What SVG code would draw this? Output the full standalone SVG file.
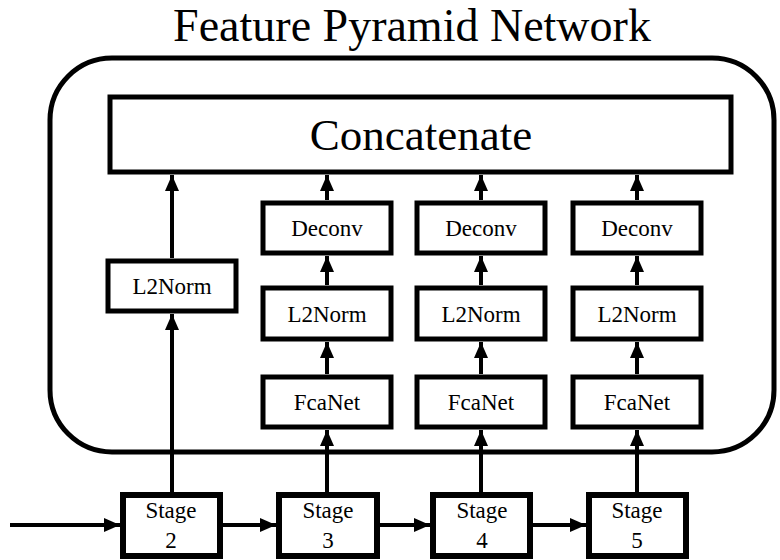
<svg xmlns="http://www.w3.org/2000/svg" width="780" height="560" viewBox="0 0 780 560">
<defs>
<marker id="ah" markerUnits="userSpaceOnUse" markerWidth="16" markerHeight="16" refX="16" refY="8" orient="auto">
<path d="M0,1 L16,8 L0,15 z" fill="#000"/>
</marker>
<style>
.box{fill:#fff;stroke:#000;stroke-width:5}
.stage{fill:#fff;stroke:#000;stroke-width:6}
.con{fill:none;stroke:#000;stroke-width:4;marker-end:url(#ah)}
</style>
</defs>
<rect width="780" height="560" fill="#fff"/>
<g fill="#000" text-anchor="middle" font-size="23">
<text x="412" y="41" font-size="46" font-family="Liberation Serif" style="font-family:'Liberation Serif',serif">Feature Pyramid Network</text>
<g id="fpn-frame"><rect x="50" y="58" width="724" height="394" rx="62" ry="62" fill="none" stroke="#000" stroke-width="5"/></g>
<g id="concatenate"><rect class="box" x="110" y="97" width="621" height="75"/><text x="421" y="150" font-size="45" font-family="Liberation Serif" style="font-family:'Liberation Serif',serif">Concatenate</text></g>
<g id="l2norm2"><rect class="box" x="108" y="261" width="128" height="50"/><text x="172" y="294" font-family="Liberation Serif" style="font-family:'Liberation Serif',serif">L2Norm</text></g>
<g id="deconv3"><rect class="box" x="263" y="203" width="128" height="50"/><text x="327" y="236" font-family="Liberation Serif" style="font-family:'Liberation Serif',serif">Deconv</text></g>
<g id="l2norm3"><rect class="box" x="263" y="288" width="128" height="51"/><text x="327" y="322" font-family="Liberation Serif" style="font-family:'Liberation Serif',serif">L2Norm</text></g>
<g id="fcanet3"><rect class="box" x="263" y="377" width="128" height="50"/><text x="327" y="410" font-family="Liberation Serif" style="font-family:'Liberation Serif',serif">FcaNet</text></g>
<g id="deconv4"><rect class="box" x="417" y="203" width="128" height="50"/><text x="481" y="236" font-family="Liberation Serif" style="font-family:'Liberation Serif',serif">Deconv</text></g>
<g id="l2norm4"><rect class="box" x="417" y="288" width="128" height="51"/><text x="481" y="322" font-family="Liberation Serif" style="font-family:'Liberation Serif',serif">L2Norm</text></g>
<g id="fcanet4"><rect class="box" x="417" y="377" width="128" height="50"/><text x="481" y="410" font-family="Liberation Serif" style="font-family:'Liberation Serif',serif">FcaNet</text></g>
<g id="deconv5"><rect class="box" x="573" y="203" width="128" height="50"/><text x="637" y="236" font-family="Liberation Serif" style="font-family:'Liberation Serif',serif">Deconv</text></g>
<g id="l2norm5"><rect class="box" x="573" y="288" width="128" height="51"/><text x="637" y="322" font-family="Liberation Serif" style="font-family:'Liberation Serif',serif">L2Norm</text></g>
<g id="fcanet5"><rect class="box" x="573" y="377" width="128" height="50"/><text x="637" y="410" font-family="Liberation Serif" style="font-family:'Liberation Serif',serif">FcaNet</text></g>
<g id="stage2"><rect class="stage" x="123" y="495" width="97" height="61"/><text x="171" y="518" font-family="Liberation Serif" style="font-family:'Liberation Serif',serif">Stage</text><text x="171" y="548" font-family="Liberation Serif" style="font-family:'Liberation Serif',serif">2</text></g>
<g id="stage3"><rect class="stage" x="279" y="495" width="98" height="61"/><text x="328" y="518" font-family="Liberation Serif" style="font-family:'Liberation Serif',serif">Stage</text><text x="328" y="548" font-family="Liberation Serif" style="font-family:'Liberation Serif',serif">3</text></g>
<g id="stage4"><rect class="stage" x="433" y="495" width="97" height="61"/><text x="482" y="518" font-family="Liberation Serif" style="font-family:'Liberation Serif',serif">Stage</text><text x="482" y="548" font-family="Liberation Serif" style="font-family:'Liberation Serif',serif">4</text></g>
<g id="stage5"><rect class="stage" x="589" y="495" width="97" height="61"/><text x="637" y="518" font-family="Liberation Serif" style="font-family:'Liberation Serif',serif">Stage</text><text x="637" y="548" font-family="Liberation Serif" style="font-family:'Liberation Serif',serif">5</text></g>
</g>
<g id="connectors">
<line class="con" x1="10" y1="525" x2="120" y2="525"/>
<line class="con" x1="220" y1="525" x2="276" y2="525"/>
<line class="con" x1="377" y1="525" x2="430" y2="525"/>
<line class="con" x1="530" y1="525" x2="586" y2="525"/>
<line class="con" x1="172" y1="492" x2="172" y2="314"/>
<line class="con" x1="172" y1="258" x2="172" y2="175"/>
<line class="con" x1="327" y1="492" x2="327" y2="430"/>
<line class="con" x1="327" y1="374" x2="327" y2="342"/>
<line class="con" x1="327" y1="285" x2="327" y2="256"/>
<line class="con" x1="327" y1="200" x2="327" y2="175"/>
<line class="con" x1="481" y1="492" x2="481" y2="430"/>
<line class="con" x1="481" y1="374" x2="481" y2="342"/>
<line class="con" x1="481" y1="285" x2="481" y2="256"/>
<line class="con" x1="481" y1="200" x2="481" y2="175"/>
<line class="con" x1="637" y1="492" x2="637" y2="430"/>
<line class="con" x1="637" y1="374" x2="637" y2="342"/>
<line class="con" x1="637" y1="285" x2="637" y2="256"/>
<line class="con" x1="637" y1="200" x2="637" y2="175"/>
</g>
</svg>
